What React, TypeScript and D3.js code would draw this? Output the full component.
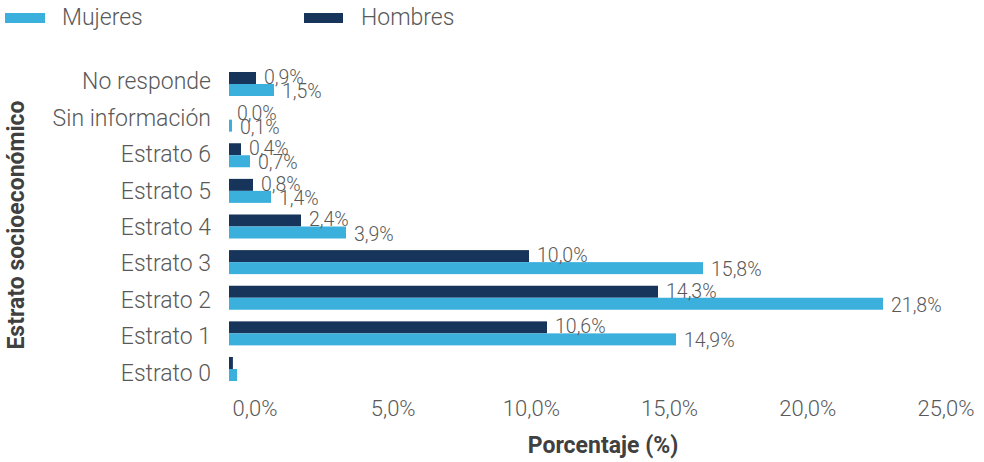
import React from "react";
import * as d3 from "d3";

const categories = ["No responde", "Sin información", "Estrato 6", "Estrato 5", "Estrato 4", "Estrato 3", "Estrato 2", "Estrato 1", "Estrato 0"];
const hombres = [0.9, 0.0, 0.4, 0.8, 2.4, 10.0, 14.3, 10.6, 0.13];
const mujeres = [1.5, 0.1, 0.7, 1.4, 3.9, 15.8, 21.8, 14.9, 0.27];
const hombresLabels = ["0,9%", "0,0%", "0,4%", "0,8%", "2,4%", "10,0%", "14,3%", "10,6%", ""];
const mujeresLabels = ["1,5%", "0,1%", "0,7%", "1,4%", "3,9%", "15,8%", "21,8%", "14,9%", ""];
const tickValues = [0, 5, 10, 15, 20, 25];
const tickLabels = ["0,0%", "5,0%", "10,0%", "15,0%", "20,0%", "25,0%"];
const seriesNames = ["Mujeres", "Hombres"];

const W = 984;
const H = 462;
const C_MUJ = "#3cb0dd";
const C_HOM = "#17355a";
const TXT = "#595959";
const FONT = "Roboto, 'Noto Sans', sans-serif";

export default function App() {
  const x = d3.scaleLinear().domain([0, 25]).range([229, 979]);
  const xTick = d3.scaleLinear().domain([0, 25]).range([255, 946]);
  const yBand = d3.scaleBand<string>().domain(categories).range([72, 381]).paddingInner(0.326).paddingOuter(0);
  const yLabel = d3.scalePoint<string>().domain(categories).range([81.3, 372.5]);
  const bw = yBand.bandwidth() / 2;

  return (
    <svg width={W} height={H} style={{ position: "absolute", left: 0, top: 0, background: "#fff" }} fontFamily={FONT}>
      {/* legend */}
      <g>
        <rect x={5} y={13} width={40} height={10} fill={C_MUJ} />
        <text x={62} y={24.5} fontSize={23} fontWeight={300} fill={TXT}>{seriesNames[0]}</text>
        <rect x={304} y={13} width={39} height={10} fill={C_HOM} />
        <text x={361} y={24.5} fontSize={23} fontWeight={300} fill={TXT}>{seriesNames[1]}</text>
      </g>

      {/* bars */}
      {categories.map((c, i) => {
        const y0 = yBand(c)!;
        return (
          <g key={c}>
            <rect x={x(0)} y={y0} width={x(hombres[i]) - x(0)} height={bw} fill={C_HOM} />
            <rect x={x(0)} y={y0 + bw} width={x(mujeres[i]) - x(0)} height={bw} fill={C_MUJ} />
            {hombresLabels[i] && (
              <text x={x(hombres[i]) + 8} y={y0 + bw / 2 + 6} fontSize={19.5} fontWeight={300} fill={TXT}>{hombresLabels[i]}</text>
            )}
            {mujeresLabels[i] && (
              <text x={x(mujeres[i]) + 8} y={y0 + bw * 1.5 + 8} fontSize={19.5} fontWeight={300} fill={TXT}>{mujeresLabels[i]}</text>
            )}
          </g>
        );
      })}

      {/* category labels */}
      {categories.map((c) => (
        <text key={c} x={211} y={yLabel(c)! + 8} textAnchor="end" fontSize={23} fontWeight={300} fill={TXT}>{c}</text>
      ))}

      {/* x tick labels */}
      {tickValues.map((v, i) => (
        <text key={v} x={xTick(v)} y={416} textAnchor="middle" fontSize={22} fontWeight={300} fill={TXT}>{tickLabels[i]}</text>
      ))}

      {/* axis titles */}
      <text x={603} y={453} textAnchor="middle" fontSize={23} fontWeight={700} fill="#404040">Porcentaje (%)</text>
      <text transform="translate(24,225) rotate(-90)" textAnchor="middle" fontSize={23} fontWeight={700} fill="#404040">Estrato socioeconómico</text>
    </svg>
  );
}
